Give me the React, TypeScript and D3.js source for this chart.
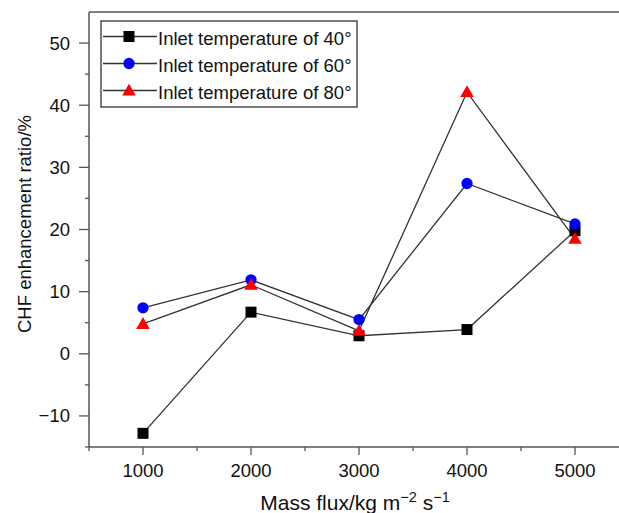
import React from "react";
import * as d3 from "d3";

const massFlux = [1000, 2000, 3000, 4000, 5000];
const t40 = [-12.8, 6.7, 2.9, 3.9, 19.8];
const t60 = [7.4, 11.9, 5.5, 27.4, 20.9];
const t80 = [4.8, 11.1, 3.7, 42.1, 18.5];
const seriesNames = ["Inlet temperature of 40°", "Inlet temperature of 60°", "Inlet temperature of 80°"];
const yMajorTicks = [-10, 0, 10, 20, 30, 40, 50];
const yMinorTicks = [-15, -5, 5, 15, 25, 35, 45];
const xMajorTicks = [1000, 2000, 3000, 4000, 5000];
const xMinorTicks = [500, 1500, 2500, 3500, 4500];

const W = 619;
const H = 513;
const FONT = "'Liberation Sans', Arial, Helvetica, sans-serif";

export default function App() {
  const left = 89, top = 12, bottom = 447, rightExt = 629;
  const x = d3.scaleLinear().domain([500, 5500]).range([left, rightExt]);
  const y = d3.scaleLinear().domain([-15, 55]).range([bottom, top]);
  const line = d3.line<number>().x((_, i) => x(massFlux[i])).y((d) => y(d));

  const series = [
    { name: seriesNames[0], values: t40, color: "#000000", shape: d3.symbolSquare, size: 121 },
    { name: seriesNames[1], values: t60, color: "#0000ff", shape: d3.symbolCircle, size: 100 },
    { name: seriesNames[2], values: t80, color: "#ff0000", shape: d3.symbolTriangle, size: 80 },
  ];
  const fmt = (v: number) => (v < 0 ? "\u2212" + Math.abs(v) : String(v));
  const axisColor = "#555";
  const lineColor = "#333";

  return (
    <svg width={W} height={H} style={{ position: "absolute", left: 0, top: 0, background: "#fff" }} fontFamily={FONT}>
      <rect x={0} y={0} width={W} height={H} fill="#fff" />
      {/* frame */}
      <line x1={left} x2={rightExt} y1={top} y2={top} stroke={axisColor} strokeWidth={1.5} />
      <line x1={left} x2={rightExt} y1={bottom} y2={bottom} stroke={axisColor} strokeWidth={1.5} />
      <line x1={left} x2={left} y1={top} y2={bottom} stroke={axisColor} strokeWidth={1.5} />
      {/* y ticks */}
      {yMajorTicks.map((t) => (
        <g key={"ym" + t}>
          <line x1={left - 10} x2={left} y1={y(t)} y2={y(t)} stroke={axisColor} strokeWidth={1.3} />
          <text x={left - 19} y={y(t) + 6.5} textAnchor="end" fontSize={18.5} fill="#111">{fmt(t)}</text>
        </g>
      ))}
      {yMinorTicks.map((t) => (
        <line key={"yn" + t} x1={left - 4} x2={left} y1={y(t)} y2={y(t)} stroke={axisColor} strokeWidth={1.3} />
      ))}
      {/* x ticks */}
      {xMajorTicks.map((t) => (
        <g key={"xm" + t}>
          <line x1={x(t)} x2={x(t)} y1={bottom} y2={bottom + 8} stroke={axisColor} strokeWidth={1.3} />
          <text x={x(t)} y={bottom + 30} textAnchor="middle" fontSize={18.5} fill="#111">{t}</text>
        </g>
      ))}
      {xMinorTicks.map((t) => (
        <line key={"xn" + t} x1={x(t)} x2={x(t)} y1={bottom} y2={bottom + 4} stroke={axisColor} strokeWidth={1.3} />
      ))}
      {/* axis titles */}
      <text transform={`translate(${31},${224}) rotate(-90)`} textAnchor="middle" fontSize={18.5} fill="#111">
        CHF enhancement ratio/%
      </text>
      <text x={355} y={510} textAnchor="middle" fontSize={21} fill="#111">
        Mass flux/kg m<tspan dy={-8} fontSize={14.5}>{"\u22122"}</tspan>
        <tspan dy={8}> s</tspan>
        <tspan dy={-8} fontSize={14.5}>{"\u22121"}</tspan>
      </text>
      {/* lines */}
      {series.map((s) => (
        <path key={"l" + s.name} d={line(s.values) || ""} fill="none" stroke={lineColor} strokeWidth={1.3} />
      ))}
      {/* markers */}
      {series.map((s) =>
        s.values.map((v, i) => (
          <path
            key={s.name + i}
            d={d3.symbol().type(s.shape).size(s.size)() || ""}
            transform={`translate(${x(massFlux[i])},${y(v) + (s.shape === d3.symbolTriangle ? 1 : 0)})`}
            fill={s.color}
          />
        ))
      )}
      {/* legend */}
      <rect x={101} y={21} width={256} height={86} fill="#fff" stroke="#333" strokeWidth={1.3} />
      {series.map((s, i) => {
        const ly = 36.5 + i * 27;
        return (
          <g key={"lg" + i}>
            <line x1={103} x2={157} y1={ly} y2={ly} stroke={lineColor} strokeWidth={1.3} />
            <path d={d3.symbol().type(s.shape).size(s.size)() || ""} transform={`translate(129,${ly + (s.shape === d3.symbolTriangle ? 1 : 0)})`} fill={s.color} />
            <text x={158} y={ly + 8} fontSize={18.5} fill="#111">{s.name}</text>
          </g>
        );
      })}
    </svg>
  );
}
